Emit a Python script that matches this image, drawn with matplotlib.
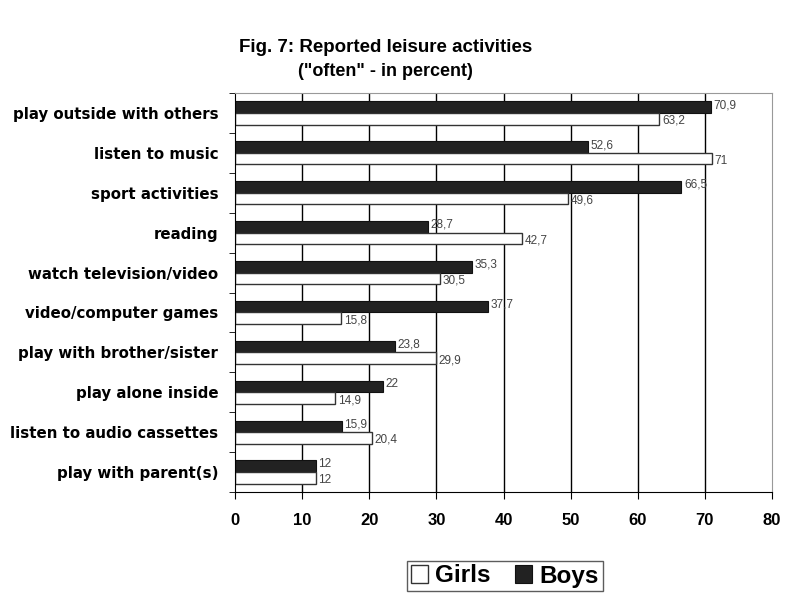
import matplotlib.pyplot as plt
import numpy as np

activities = ['play outside with others', 'listen to music', 'sport activities',
              'reading', 'watch television/video', 'video/computer games',
              'play with brother/sister', 'play alone inside',
              'listen to audio cassettes', 'play with parent(s)']
boys = [70.9, 52.6, 66.5, 28.7, 35.3, 37.7, 23.8, 22, 15.9, 12]
girls = [63.2, 71, 49.6, 42.7, 30.5, 15.8, 29.9, 14.9, 20.4, 12]
xticks = [0, 10, 20, 30, 40, 50, 60, 70, 80]

plt.rcParams['font.family'] = ['Liberation Sans', 'DejaVu Sans']

fig = plt.figure(figsize=(7.88, 5.97), dpi=100)
ax = fig.add_axes([235 / 788, 1 - 492 / 597, (772 - 235) / 788, (492 - 93) / 597])

y = np.arange(len(activities))
h = 0.29

for x in xticks[1:-1]:
    ax.axvline(x, color='black', lw=1.0, zorder=0)

ax.barh(y - h / 2, boys, height=h, color='#222222', edgecolor='#111111', lw=0.8, label='Boys', zorder=2)
ax.barh(y + h / 2, girls, height=h, color='white', edgecolor='#333333', lw=1.0, label='Girls', zorder=2)

for i in range(len(activities)):
    ax.text(boys[i] + 0.4, y[i] - h / 2 - 0.05, f'{boys[i]:g}'.replace('.', ','),
            fontsize=8.5, color='#444444', va='center', ha='left')
    ax.text(girls[i] + 0.4, y[i] + h / 2 + 0.05, f'{girls[i]:g}'.replace('.', ','),
            fontsize=8.5, color='#444444', va='center', ha='left')

ax.set_xlim(0, 80)
ax.set_ylim(len(activities) - 0.5, -0.5)
ax.set_xticks(xticks)
ax.set_xticklabels([str(t) for t in xticks], fontsize=12, fontweight='bold')
ax.set_yticks(y)
ax.set_yticklabels(activities, fontsize=10.8, fontweight='bold', family='DejaVu Sans')
ax.set_yticks(np.arange(len(activities) + 1) - 0.5, minor=True)
ax.tick_params(axis='y', which='major', length=0, pad=12)
ax.tick_params(axis='y', which='minor', length=4, direction='out')
ax.tick_params(axis='x', length=5, direction='out', pad=10)

ax.spines['left'].set_color('black')
ax.spines['bottom'].set_color('black')
ax.spines['top'].set_color('#999999')
ax.spines['right'].set_color('#999999')

fig.text(0.489, 1 - 47 / 597, 'Fig. 7: Reported leisure activities', ha='center', va='center',
         fontsize=13.5, fontweight='bold')
fig.text(0.489, 1 - 71 / 597, '("often" - in percent)', ha='center', va='center',
         fontsize=13, fontweight='bold')

handles, labels = ax.get_legend_handles_labels()
leg = fig.legend(handles[::-1], labels[::-1], loc='center', bbox_to_anchor=(505 / 788, 1 - 576 / 597),
                 ncol=2, frameon=True, fancybox=False, edgecolor='#333333',
                 prop={'weight': 'bold', 'size': 17.5}, handlelength=0.7, handleheight=0.7,
                 handletextpad=0.3, columnspacing=1.0, borderpad=0.15)

fig.savefig('out.png', dpi=100)
